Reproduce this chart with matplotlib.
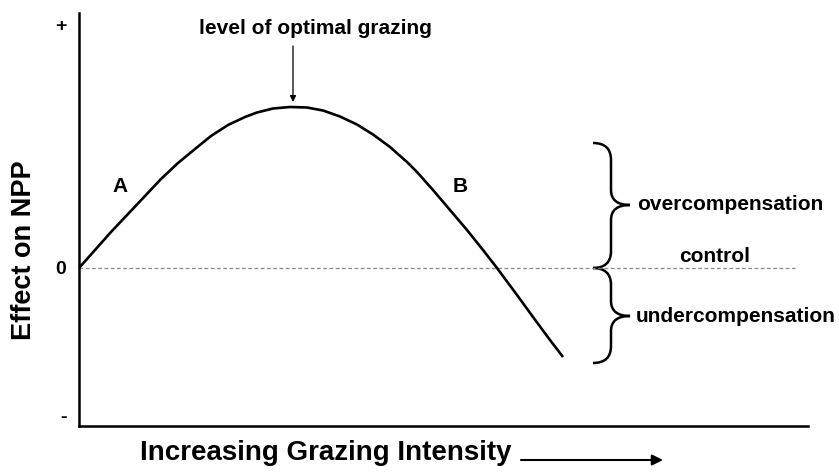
import numpy as np
import matplotlib
matplotlib.use('Agg')
import matplotlib.pyplot as plt
from matplotlib.path import Path
from matplotlib.patches import PathPatch

plt.rcParams['font.family'] = ['Liberation Sans', 'DejaVu Sans']
plt.rcParams['font.weight'] = 'bold'

# 曲线点（任意单位）
grazing = [0.00, 0.16, 0.32, 0.49, 0.66, 0.82, 0.99, 1.16, 1.32, 1.49, 1.66,
           1.78, 1.94, 2.11, 2.28, 2.44, 2.61, 2.78, 2.94, 3.11, 3.28, 3.38,
           3.54, 3.71, 3.88, 4.04, 4.18, 4.38, 4.54, 4.71, 4.84]
npp_effect = [0.00, 0.18, 0.36, 0.54, 0.72, 0.89, 1.05, 1.19, 1.32, 1.43, 1.51,
              1.555, 1.595, 1.61, 1.605, 1.575, 1.515, 1.435, 1.335, 1.21, 1.06, 0.96,
              0.78, 0.58, 0.38, 0.18, 0.00, -0.27, -0.49, -0.72, -0.89]

tick_pos = [2.44, 0.0, -1.48]
tick_labels = ['+', '0', '-']

fig = plt.figure(figsize=(8.39, 4.72), dpi=100)
ax = fig.add_axes([79 / 839, 46 / 472, 729 / 839, 413 / 472])
ax.set_xlim(0, 7.29)
ax.set_ylim(-1.58, 2.55)

for s in ['top', 'right']:
    ax.spines[s].set_visible(False)
for s in ['left', 'bottom']:
    ax.spines[s].set_linewidth(1.8)

ax.set_xticks([])
ax.set_yticks(tick_pos)
ax.set_yticklabels(tick_labels, fontsize=14, fontweight='bold')
ax.tick_params(axis='y', length=0, pad=9)

# 对照线 (control)
ax.plot([0, 7.16], [0, 0], color='#888888', lw=0.9, ls=(0, (3, 2)))

# 主曲线
ax.plot(grazing, npp_effect, color='black', lw=1.9, solid_capstyle='butt',
        solid_joinstyle='round', clip_on=False)

ax.text(2.36, 2.40, 'level of optimal grazing', ha='center', va='center', fontsize=15)
ax.annotate('', xy=(2.14, 1.66), xytext=(2.14, 2.22),
            arrowprops=dict(arrowstyle='-|>', color='black', lw=0.9,
                            mutation_scale=9, shrinkA=0, shrinkB=0))
ax.text(0.41, 0.81, 'A', ha='center', va='center', fontsize=15)
ax.text(3.81, 0.82, 'B', ha='center', va='center', fontsize=15)


def brace(ax, xb, xs, xt, y0, ym, y1):
    # 画一个指向右边的花括号
    r = 0.17
    rt = 0.15
    verts = [(xb, y1), (xs, y1), (xs, y1 - r),
             (xs, ym + rt),
             (xs, ym), (xt, ym),
             (xs, ym), (xs, ym - rt),
             (xs, y0 + r),
             (xs, y0), (xb, y0)]
    codes = [Path.MOVETO, Path.CURVE3, Path.CURVE3,
             Path.LINETO,
             Path.CURVE3, Path.CURVE3,
             Path.CURVE3, Path.CURVE3,
             Path.LINETO,
             Path.CURVE3, Path.CURVE3]
    ax.add_patch(PathPatch(Path(verts, codes), fill=False, lw=1.8,
                           edgecolor='black', clip_on=False))


brace(ax, 5.14, 5.32, 5.51, 0.0, 0.63, 1.25)
brace(ax, 5.14, 5.32, 5.51, -0.95, -0.48, 0.0)

ax.text(5.58, 0.63, 'overcompensation', ha='left', va='center', fontsize=15)
ax.text(5.57, -0.48, 'undercompensation', ha='left', va='center', fontsize=15)
ax.text(6.36, 0.11, 'control', ha='center', va='center', fontsize=15)

ax.text(-0.55, 0.18, 'Effect on NPP', rotation=90, ha='center', va='center',
        fontsize=19.5, clip_on=False)
ax.text(2.47, -1.85, 'Increasing Grazing Intensity', ha='center', va='center',
        fontsize=20, clip_on=False)
ax.annotate('', xy=(5.84, -1.92), xytext=(4.42, -1.92),
            annotation_clip=False,
            arrowprops=dict(arrowstyle='-|>', color='black', lw=1.5,
                            mutation_scale=16, shrinkA=0, shrinkB=0))

fig.savefig('out.png', dpi=100)
